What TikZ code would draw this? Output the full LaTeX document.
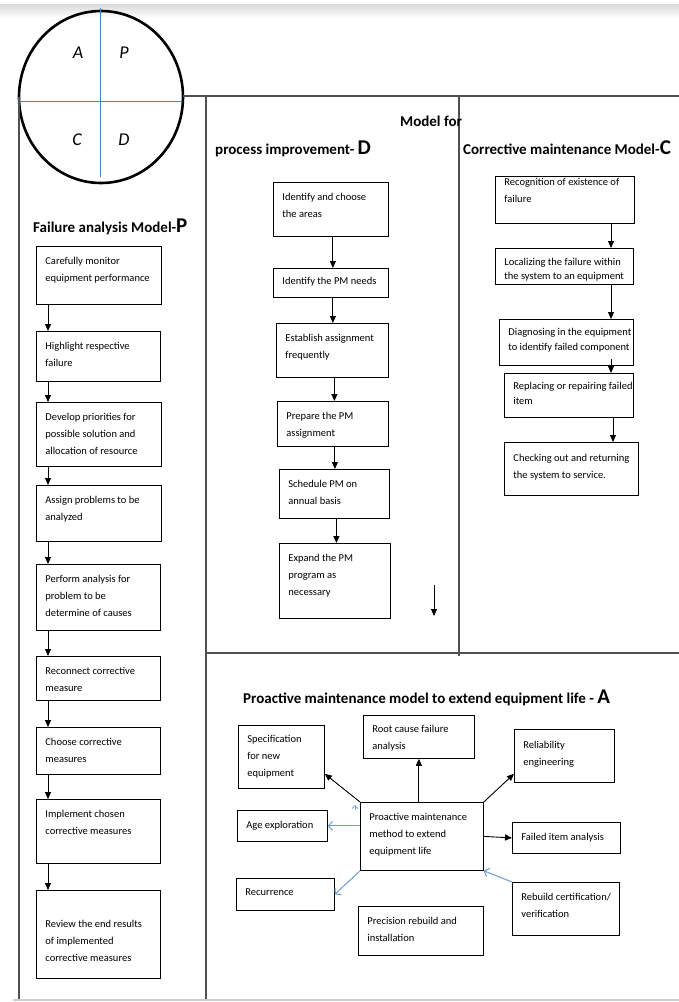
\documentclass[tikz,border=0pt]{standalone}
\usepackage{fontspec}
\setmainfont{Carlito}
\usetikzlibrary{arrows.meta, positioning}
\definecolor{quadblue}{HTML}{4F81BD}
\definecolor{linkblue}{HTML}{6F9BD1}
\definecolor{panelgray}{HTML}{505050}
\newcommand{\modelletter}[1]{{\fontsize{21}{21}\selectfont #1}}

\begin{document}
\begin{tikzpicture}[
	x=1pt, y=-1pt,
	box top/.store in=\boxtop, box top=18.5pt,
	box skip/.store in=\boxskip, box skip=17pt,
	stepbox/.style n args={2}{draw, line width=0.8pt, anchor=north west, inner sep=0pt,
		execute at begin node={\begin{minipage}[c][#2][t]{#1}\fontsize{10.5}{\boxskip}\selectfont\raggedright\setlength{\leftskip}{9pt}\rule{0pt}{\boxtop}},
		execute at end node={\end{minipage}}},
	paneltitle/.style={anchor=base west, inner sep=0pt, font=\fontsize{15}{17}\selectfont\bfseries},
	quadlabel/.style={inner sep=0pt, font=\fontsize{18}{18}\selectfont\itshape},
	panel/.style={draw=panelgray, line width=1.4pt},
	arr/.style={-{Triangle[length=7pt,width=6pt]}, line width=0.9pt},
	barb/.style={-{Straight Barb[length=4pt,width=9pt]}, draw=linkblue, line width=1pt},
	]

	\useasboundingbox (0,0) rectangle (679,1002);
	\shade[top color=gray!30, bottom color=white] (0,4) rectangle (679,18);

	% PDCA circle
	\draw[line width=2.6pt] (101,97) ellipse [x radius=82, y radius=86];
	\draw[quadblue, line width=1pt] (100,8) -- (100,177);
	\draw[quadblue, line width=1pt] (20,101) -- (182,101);
	\node[quadlabel] (qa) at (78,53) {A};
	\node[quadlabel] (qp) at (124,53) {P};
	\node[quadlabel] (qc) at (77,140) {C};
	\node[quadlabel] (qd) at (124,140) {D};

	% panel frames
	\coordinate (ce) at (183,96);
	\draw[panel] (ce) -- (679,96);
	\draw[panel] (19,97) -- (19,1000);
	\draw[panel] (206,96) -- (206,1000);
	\draw[panel] (459,96) -- (459,656);
	\draw[panel] (206,653) -- (679,653);
	\draw[gray!40, line width=1.4pt] (13,1000) -- (679,1000);

	% titles
	\node[paneltitle] (tp) at (33,232) {Failure analysis Model-\modelletter{P}};
	\node[paneltitle] (td1) at (400,126) {Model for};
	\node[paneltitle] (td2) at (215,154) {process improvement- \modelletter{D}};
	\node[paneltitle] (tc) at (463,154) {Corrective maintenance Model-\modelletter{C}};
	\node[paneltitle] (ta) at (243,703) {Proactive maintenance model to extend equipment life - \modelletter{A}};

	% failure analysis model
	\node[stepbox={125pt}{58pt}] (p1) at (36,246) {Carefully monitor\\equipment performance};
	\node[stepbox={124pt}{50pt}] (p2) at (36,331) {Highlight respective\\failure};
	\node[stepbox={125pt}{64pt}] (p3) at (36,402) {Develop priorities for\\possible solution and\\allocation of resource};
	\node[stepbox={125pt}{56pt}] (p4) at (36,485) {Assign problems to be\\analyzed};
	\node[stepbox={124pt}{66pt}] (p5) at (36,564) {Perform analysis for\\problem to be\\determine of causes};
	\node[stepbox={124pt}{44pt}] (p6) at (36,656) {Reconnect corrective\\measure};
	\node[stepbox={124pt}{47pt}] (p7) at (36,727) {Choose corrective\\measures};
	\node[stepbox={124pt}{64pt}] (p8) at (36,799) {Implement chosen\\corrective measures};
	\node[stepbox={124pt}{88pt}] (p9) at (36,890) {\mbox{}\\[2pt]Review the end results\\of implemented\\corrective measures};

	\coordinate (pa) at (48,0);
	\foreach \a/\b in {p1/p2, p2/p3, p3/p4, p4/p5, p5/p6, p6/p7, p7/p8, p8/p9}
		\draw[arr] (\a.south -| pa) -- (\b.north -| pa);

	% process improvement model
	\node[stepbox={115pt}{54pt}] (d1) at (273,182) {Identify and choose\\the areas};
	\node[stepbox={115pt}{29pt}, box top=16.5pt] (d2) at (273,268) {Identify the PM needs};
	\node[stepbox={112pt}{54pt}] (d3) at (276,323) {Establish assignment\\frequently};
	\node[stepbox={111pt}{45pt}] (d4) at (277,401) {Prepare the PM\\assignment};
	\node[stepbox={110pt}{49pt}] (d5) at (279,469) {Schedule PM on\\annual basis};
	\node[stepbox={111pt}{75pt}] (d6) at (279,543) {Expand the PM\\program as\\necessary};

	\foreach \a/\b in {d1/d2, d2/d3, d3/d4, d4/d5, d5/d6}
		\draw[arr] ([xshift=2pt]\a.south) -- ([xshift=2pt]\a.south |- \b.north);
	\coordinate (da) at (434,585);
	\coordinate (db) at (434,616);
	\draw[arr] (da) -- (db);

	% corrective maintenance model
	\node[stepbox={139pt}{47pt}, box top=9pt] (c1) at (495,176) {Recognition of existence of\\failure};
	\node[stepbox={138pt}{36pt}, box top=17pt, box skip=14pt] (c2) at (495,248) {Localizing the failure within\\the system to an equipment};
	\node[stepbox={134pt}{46pt}, box top=16.5pt, box skip=15pt] (c3) at (499,319) {Diagnosing in the equipment\\to identify failed component};
	\node[stepbox={129pt}{44pt}, box top=16.5pt, box skip=15pt] (c4) at (504,373) {Replacing or repairing failed\\item};
	\node[stepbox={134pt}{53pt}, box top=19.5pt] (c5) at (504,442) {Checking out and returning\\the system to service.};

	\coordinate (ca) at (611,0);
	\draw[arr] (c1.south -| ca) -- (c2.north -| ca);
	\draw[arr] (c2.south -| ca) -- (c3.north -| ca);
	\draw[arr, shorten <=-7pt] (c3.south -| ca) -- (c4.north -| ca);
	\draw[arr] ([xshift=2pt]c4.south -| ca) -- ([xshift=2pt]c5.north -| ca);

	% proactive maintenance model
	\node[stepbox={123pt}{68pt}, box top=18pt] (pm) at (360,802) {Proactive maintenance\\method to extend\\equipment life};
	\node[stepbox={86pt}{63pt}, box top=17pt] (sp) at (238,725) {Specification\\for new\\equipment};
	\node[stepbox={111pt}{43pt}, box top=17pt] (rc) at (363,715) {Root cause failure\\analysis};
	\node[stepbox={100pt}{53pt}, box top=19pt] (re) at (514,729) {Reliability\\engineering};
	\node[stepbox={90pt}{31pt}, box top=18pt] (ag) at (237,810) {Age exploration};
	\node[stepbox={108pt}{31pt}, box top=18pt] (fi) at (512,822) {Failed item analysis};
	\node[stepbox={98pt}{32pt}, box top=17pt] (rr) at (236,878) {Recurrence};
	\node[stepbox={107pt}{53pt}, box top=18pt] (rb) at (512,882) {Rebuild certification/\\verification};
	\node[stepbox={125pt}{49pt}, box top=18pt] (pr) at (358,906) {Precision rebuild and\\installation};

	\draw[arr] (pm.north -| rc.south) -- (rc.south);
	\draw[arr] (pm.north west) -- ([yshift=15pt]sp.south east);
	\draw[arr] (pm.north east) -- ([yshift=9pt]re.south west);
	\draw[arr] (pm.east) -- (fi.west);
	\draw[barb] (ag.east -| pm.west) -- (ag.east);
	\draw[barb] (pm.south west) -- (rr.east);
	\draw[barb] (rb.north west) -- (pm.south east);
	\coordinate (cr1) at (355,810);
	\coordinate (cr2) at (355,805);
	\draw[barb, line width=0.8pt, -{Straight Barb[length=3pt,width=6pt]}] (cr1) -- (cr2);

\end{tikzpicture}
\end{document}
